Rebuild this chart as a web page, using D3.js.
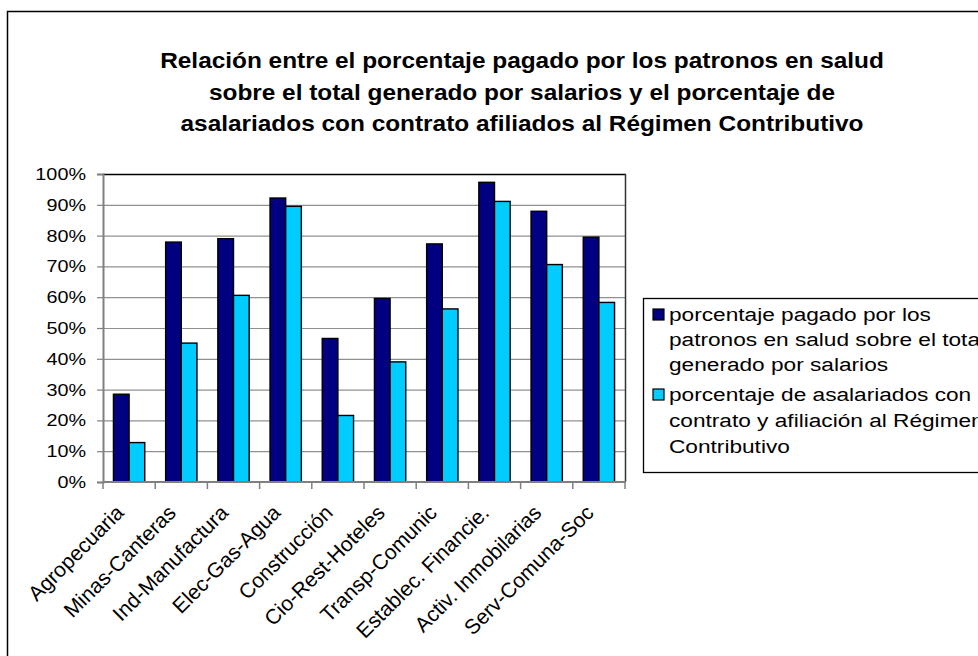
<!DOCTYPE html>
<html><head><meta charset="utf-8">
<script src="https://cdn.jsdelivr.net/npm/d3@7"></script>
<style>
body{margin:0;background:#fff;overflow:hidden;}
svg{display:block;}
text{font-family:"Liberation Sans",Arial,sans-serif;fill:#000;}
</style>
</head><body>
<svg id="c" width="978" height="656"></svg>
<script>
// ---- data ----
const categories = ["Agropecuaria","Minas-Canteras","Ind-Manufactura","Elec-Gas-Agua","Construcción","Cio-Rest-Hoteles","Transp-Comunic","Establec. Financie.","Activ. Inmobilarias","Serv-Comuna-Soc"];
const paidValues = [28.5, 77.9, 79.0, 92.2, 46.6, 59.6, 77.3, 97.3, 87.9, 79.5];
const affiliatedValues = [12.8, 45.1, 60.6, 89.5, 21.6, 39.0, 56.2, 91.1, 70.6, 58.3];
const seriesKeys = ["paid","affiliated"];
const yTickValues = [0,10,20,30,40,50,60,70,80,90,100];
const titleLines = [
  "Relación entre el porcentaje pagado por los patronos en salud",
  "sobre el total generado por salarios y el porcentaje de",
  "asalariados con contrato afiliados al Régimen Contributivo"
];
const legendLines = [
  ["porcentaje pagado por los","patronos en salud sobre el total","generado por salarios"],
  ["porcentaje de asalariados con","contrato y afiliación al Régimen","Contributivo"]
];
const colors = ["#000080","#00CCFF"];

// ---- layout ----
const svg = d3.select("#c");
const plot = {left:103, right:625, top:174, bottom:482};

// outer chart frame (extends past window)
svg.append("rect").attr("x",7.5).attr("y",11.5).attr("width",1100).attr("height",800)
  .attr("fill","#fff").attr("stroke","#000").attr("stroke-width",1.5);

function stretchedText(parent, x, y, str, size, anchor, weight){
  return parent.append("text").attr("transform",`translate(${x},${y})`)
    .attr("text-anchor",anchor).style("font-size",size+"px").style("font-weight",weight||"normal").text(str);
}

// title
const titleG = svg.append("g");
const tNodes = titleLines.map((s,i)=>stretchedText(titleG, 522, 68+i*31.5, s, 21.5, "middle", "bold"));
const tsx = 724 / tNodes[0].node().getComputedTextLength();
tNodes.forEach((t,i)=>t.attr("transform",`translate(522,${68+i*31.5}) scale(${tsx},1)`));

// scales
const x0 = d3.scaleBand().domain(categories).range([plot.left, plot.right]).padding(0);
const x1 = d3.scaleBand().domain(seriesKeys).range([x0.bandwidth()*0.2, x0.bandwidth()*0.8]).padding(0);
const y = d3.scaleLinear().domain([0,100]).range([plot.bottom, plot.top]);

// gridlines
svg.append("g").selectAll("line").data(yTickValues.filter(v=>v>0 && v<100)).join("line")
  .attr("x1",plot.left).attr("x2",plot.right).attr("y1",d=>y(d)+0.5).attr("y2",d=>y(d)+0.5)
  .attr("stroke","#909090").attr("stroke-width",1.2);

// plot border top / right
svg.append("line").attr("x1",plot.left).attr("x2",plot.right+1).attr("y1",plot.top+0.5).attr("y2",plot.top+0.5).attr("stroke","#000").attr("stroke-width",1.5);
svg.append("line").attr("x1",plot.right+0.5).attr("x2",plot.right+0.5).attr("y1",plot.top).attr("y2",plot.bottom).attr("stroke","#333").attr("stroke-width",1.5);

// bars
const rows = categories.map((c,i)=>({cat:c, vals:[{k:"paid",v:paidValues[i]},{k:"affiliated",v:affiliatedValues[i]}]}));
svg.append("g").selectAll("g").data(rows).join("g")
  .attr("transform",d=>`translate(${x0(d.cat)},0)`)
  .selectAll("rect").data(d=>d.vals).join("rect")
  .attr("x",d=>x1(d.k)).attr("width",x1.bandwidth())
  .attr("y",d=>y(d.v)).attr("height",d=>y(0)-y(d.v))
  .attr("fill",(d,i)=>colors[i]).attr("stroke","#000").attr("stroke-width",1.4);

// y axis
const yAxis = d3.axisLeft(y).tickValues(yTickValues).tickFormat(d=>d+"%").tickSize(6).tickPadding(10);
const yg = svg.append("g").attr("transform",`translate(${plot.left},0)`).call(yAxis);
yg.select(".domain").attr("stroke","#808080").attr("stroke-width",2);
yg.selectAll(".tick line").attr("stroke","#808080").attr("stroke-width",1.2);
yg.selectAll(".tick text").remove();
yTickValues.forEach(v=>{
  const t = stretchedText(svg, 86, y(v)+6, v+"%", 16.5, "end");
  t.attr("transform",`translate(86,${y(v)+6}) scale(1.2,1)`);
});

// x axis
const boundaries = categories.map(c=>x0(c)).concat([plot.right]);
const xg = svg.append("g");
xg.append("line").attr("x1",plot.left).attr("x2",plot.right+1).attr("y1",plot.bottom).attr("y2",plot.bottom).attr("stroke","#808080").attr("stroke-width",2);
xg.selectAll("line.tk").data(boundaries).join("line").attr("class","tk")
  .attr("x1",d=>d).attr("x2",d=>d).attr("y1",plot.bottom).attr("y2",plot.bottom+7)
  .attr("stroke","#808080").attr("stroke-width",1.5);
xg.selectAll("text").data(categories).join("text")
  .attr("text-anchor","end").style("font-size","21px")
  .attr("transform",d=>`translate(${x0(d)+x0.bandwidth()/2-4},${plot.bottom+32}) rotate(-45)`)
  .text(d=>d);

// legend
const lg = svg.append("g");
lg.append("rect").attr("x",643.5).attr("y",298.5).attr("width",500).attr("height",174)
  .attr("fill","#fff").attr("stroke","#000").attr("stroke-width",1.3);
const lineBase = [[321,346,371],[401,427,453]];
const l0 = stretchedText(lg, 669, 321, legendLines[0][0], 18, "start");
const lsx = 262 / l0.node().getComputedTextLength();
l0.remove();
legendLines.forEach((lines,i)=>{
  lg.append("rect").attr("x",653).attr("y",lineBase[i][0]-12).attr("width",11).attr("height",11)
    .attr("fill",colors[i]).attr("stroke","#000").attr("stroke-width",1.2);
  lines.forEach((s,j)=>{
    stretchedText(lg, 669, lineBase[i][j], s, 18, "start")
      .attr("transform",`translate(669,${lineBase[i][j]}) scale(${lsx},1)`);
  });
});
</script>
</body></html>
